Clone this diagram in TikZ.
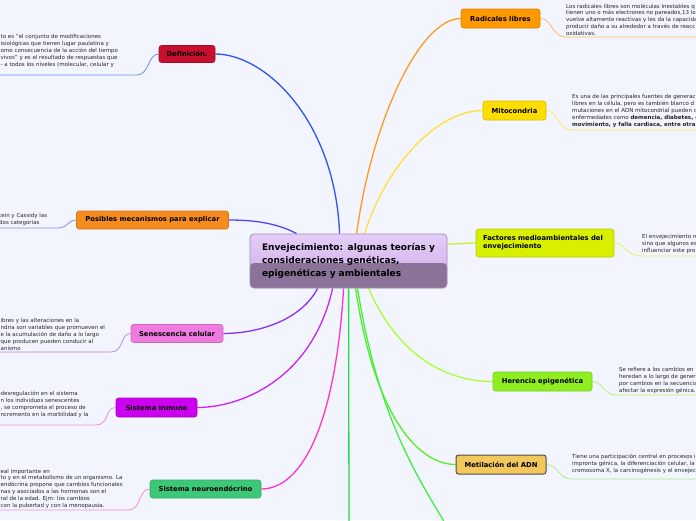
\documentclass[tikz,border=0pt]{standalone}
\usepackage{fontspec}
\setmainfont{DejaVu Sans}
\usetikzlibrary{calc}
\definecolor{bg}{HTML}{F2F5FD}
\definecolor{txt}{HTML}{262626}
\definecolor{cTopA}{HTML}{E4CDF8}
\definecolor{cTopB}{HTML}{CDAAE4}
\definecolor{cBot}{HTML}{8B7298}
\definecolor{cBorder}{HTML}{A08CB2}
\definecolor{fDef}{HTML}{C8102E}
\definecolor{fPos}{HTML}{F68B1F}
\definecolor{fSen}{HTML}{F07BE0}
\definecolor{fInm}{HTML}{CC00EE}
\definecolor{fNeu}{HTML}{3DC878}
\definecolor{fRad}{HTML}{FF9900}
\definecolor{fMit}{HTML}{FFDD00}
\definecolor{fFac}{HTML}{D8F000}
\definecolor{fHer}{HTML}{8EEE22}
\definecolor{fMet}{HTML}{F2C75C}
\definecolor{lDef}{HTML}{2F55EE}
\definecolor{lPos}{HTML}{4A4AF0}
\definecolor{lRad}{HTML}{FF9922}
\definecolor{lMit}{HTML}{FFE033}
\definecolor{lFac}{HTML}{CCEE33}
\definecolor{lSen}{HTML}{8833EE}
\definecolor{lInm}{HTML}{CC22EE}
\definecolor{lNeu}{HTML}{FF33CC}
\definecolor{lHer}{HTML}{AAFF33}
\definecolor{lMet}{HTML}{55EE22}
\definecolor{lBot}{HTML}{22DD44}
\definecolor{lBot2}{HTML}{44EE44}
\definecolor{sDef}{HTML}{6F8BF0}
\definecolor{sPos}{HTML}{8C8CF2}
\definecolor{sSen}{HTML}{BB88EE}
\definecolor{sInm}{HTML}{EE88EE}
\definecolor{sNeu}{HTML}{FF88DD}
\definecolor{sRad}{HTML}{FFBB66}
\definecolor{sMit}{HTML}{FFE866}
\definecolor{sFac}{HTML}{E0F060}
\definecolor{sHer}{HTML}{BBF070}
\definecolor{sMet}{HTML}{AAEE88}
\pgfdeclarelayer{back}
\pgfdeclarelayer{lines}
\pgfsetlayers{back,lines,main}
\begin{document}
\begin{tikzpicture}[x=1pt,y=-1pt,
  topic/.style={rounded corners=2.5pt, inner sep=0pt, line width=0.6pt,
    font=\fontsize{6.8}{8.2}\selectfont\bfseries, text=black},
  note/.style={anchor=west, align=left, inner sep=0pt, text=txt,
    font=\fontsize{5.5}{6.8}\selectfont},
  mainline/.style={line width=1.3pt},
  sideline/.style={line width=0.8pt}]
\useasboundingbox (0,0) rectangle (696,520);
\begin{pgfonlayer}{back}
\fill[bg] (0,0) rectangle (696,520);
\end{pgfonlayer}
\clip (0,0) rectangle (696,520);

% free ends
\coordinate (eDef) at (0,75);
\coordinate (ePos) at (0,228);
\coordinate (eSen) at (0,352);
\coordinate (eInm) at (0,425);
\coordinate (eNeu) at (0,510);
\coordinate (eRad) at (696,37);
\coordinate (eMit) at (696,130);
\coordinate (eFac) at (696,256);
\coordinate (eHer) at (696,395);
\coordinate (eMet) at (696,479);
\coordinate (eB1) at (349,525);
\coordinate (eB2) at (446,525);

% central node
\node[rounded corners=4pt, draw=cBorder, line width=0.8pt, top color=cTopA, bottom color=cTopB,
  minimum width=197pt, minimum height=54pt, inner xsep=12pt, inner ysep=0pt,
  text width=173pt, align=left, font=\fontsize{9}{13}\selectfont\bfseries, text=black,
  path picture={\fill[cBot] ([yshift=-2pt]path picture bounding box.west) rectangle (path picture bounding box.south east);}]
  (c) at (348.5,261) {Envejecimiento: algunas teorías y\\consideraciones genéticas,\\epigenéticas y ambientales};

% topic nodes
\node[topic, fill=fDef, draw=fDef!80!black, minimum width=56pt, minimum height=17pt] (def) at (187,54) {Definición.};
\node[topic, fill=fPos, draw=fPos!85!black, minimum width=152pt, minimum height=18pt] (pos) at (152.5,220) {Posibles mecanismos para explicar};
\node[topic, fill=fSen, draw=fSen!85!black, minimum width=92pt, minimum height=18pt] (sen) at (177,333.5) {Senescencia celular};
\node[topic, fill=fInm, draw=fInm!85!black, minimum width=81pt, minimum height=19pt] (inm) at (156.5,407.5) {Sistema Inmune};
\node[topic, fill=fNeu, draw=fNeu!85!black, minimum width=111pt, minimum height=18pt] (neu) at (205.5,489) {Sistema neuroendócrino};
\node[topic, fill=fRad, draw=fRad!85!black, minimum width=79pt, minimum height=19pt] (rad) at (500.5,18.5) {Radicales libres};
\node[topic, fill=fMit, draw=fMit!85!black, minimum width=63pt, minimum height=19pt] (mit) at (514.5,110.5) {Mitocondria};
\node[topic, fill=fFac, draw=fFac!85!black, minimum width=138pt, minimum height=28pt, text width=124pt, align=left] (fac) at (545,243) {Factores medioambientales del\\envejecimiento};
\node[topic, fill=fHer, draw=fHer!85!black, minimum width=99pt, minimum height=19pt] (her) at (542.5,381.5) {Herencia epigenética};
\node[topic, fill=fMet, draw=black!70, line width=1pt, minimum width=90pt, minimum height=19pt] (met) at (501,464.5) {Metilación del ADN};

\begin{pgfonlayer}{lines}
% main connectors
\draw[mainline, lDef] ([xshift=90pt]c.north west) .. controls (335,120) and (265,54) .. (def.east);
\draw[mainline, lRad] ([xshift=107pt]c.north west) .. controls (372,120) and (420,18.5) .. (rad.west);
\draw[mainline, lMit] ([xshift=115pt]c.north west) .. controls (388,160) and (440,110.5) .. (mit.west);
\draw[mainline, lFac] ([yshift=17pt]c.east) .. controls (460,244) and (465,243) .. (fac.west);
\draw[mainline, lPos] ([xshift=47pt]c.north west) .. controls (275,222) and (250,220) .. (pos.east);
\draw[mainline, lSen] ([xshift=68pt]c.south west) .. controls (300,322) and (255,333.5) .. (sen.east);
\draw[mainline, lInm] ([xshift=83pt]c.south west) .. controls (312,380) and (240,407.5) .. (inm.east);
\draw[mainline, lNeu] ([xshift=94pt]c.south west) .. controls (335,430) and (300,489) .. (neu.east);
\draw[mainline, lHer] ([xshift=119pt]c.south west) .. controls (400,360) and (450,381.5) .. (her.west);
\draw[mainline, lMet] ([xshift=106pt]c.south west) .. controls (375,420) and (420,464.5) .. (met.west);
\draw[mainline, lBot] ([xshift=99pt]c.south west) -- (eB1);
\draw[mainline, lBot2] ([xshift=108pt]c.south west) .. controls (378,420) and (420,480) .. (eB2);

% side connectors
\draw[sideline, sDef] (def.west) .. controls (148,54) and (149,75) .. (137,75) -- (eDef);
\draw[sideline, sPos] (pos.west) .. controls (68,220) and (68,228) .. (58,228) -- (ePos);
\draw[sideline, sSen] (sen.west) .. controls (120,333.5) and (124,352) .. (111,352) -- (eSen);
\draw[sideline, sInm] (inm.west) .. controls (105,407.5) and (109,425) .. (96,425) -- (eInm);
\draw[sideline, sNeu] (neu.west) .. controls (138,489) and (142,510) .. (128,510) -- (eNeu);
\draw[sideline, sRad] (rad.east) .. controls (552,18.5) and (552,37) .. (566,37) -- (eRad);
\draw[sideline, sMit] (mit.east) .. controls (558,110.5) and (558,130) .. (572,130) -- (eMit);
\draw[sideline, sFac] (fac.east) .. controls (626,243) and (626,256) .. (641,256) -- (eFac);
\draw[sideline, sHer] (her.east) .. controls (603,381.5) and (603,395) .. (617,395) -- (eHer);
\draw[sideline, sMet] (met.east) .. controls (558,464.5) and (558,479) .. (572,479) -- (eMet);
\end{pgfonlayer}

% notes
\node[note] (tDef) at (0.5,51) {to es "el conjunto de modificaciones\\isiológicas que tienen lugar paulatina y\\omo consecuencia de la acción del tiempo\\vivos" y es el resultado de respuestas que\\- a todos los niveles (molecular, celular y};
\node[note] (tPos) at (-1,219.5) {tein y Cassidy las\\dos categorias};
\node[note] (tSen) at (0.5,334.5) {ibres y las alteraciones en la\\ndria son variables que promueven el\\e la acumulación de daño a lo largo\\ que producen pueden conducir al\\anismo};
\node[note] (tInm) at (0.5,404.5) {desregulación en el sistema\\n los individuos senescentes\\, se comprometa el proceso de\\ncremento en la morbilidad y la};
\node[note] (tNeu) at (0.5,488.5) {eal importante en\\to y en el metabolismo de un organismo. La\\endócrina propone que cambios funcionales\\nas y asociados a las hormonas son el\\ral de la edad. Ejm: los cambios\\ con la pubertad y con la menopausia.};
\node[note] (tRad) at (566,19.5) {Los radicales libres son moléculas inestables q\\tienen uno o más electrones no pareados,13 lo\\vuelve altamente reactivas y les da la capacida\\producir daño a su alrededor a través de reacc\\oxidativas.};
\node[note] (tMit) at (572,111) {Es una de las principales fuentes de generac\\libres en la célula, pero es también blanco d\\mutaciones en el ADN mitocondrial pueden c\\enfermedades como \textbf{demencia, diabetes, e}\\\textbf{movimiento, y falla cardiaca, entre otra}};
\node[note] (tFac) at (642,244) {El envejecimiento n\\sino que algunos es\\influenciar este pro};
\node[note] (tHer) at (619,380.5) {Se refiere a los cambios en\\heredan a lo largo de gener\\por cambios en la secuencia\\afectar la expresión génica.};
\node[note] (tMet) at (572,464) {Tiene una participación central en procesos i\\impronta génica, la diferenciación celular, la\\cromosoma X, la carcinogénesis y el envejec};
\end{tikzpicture}
\end{document}
